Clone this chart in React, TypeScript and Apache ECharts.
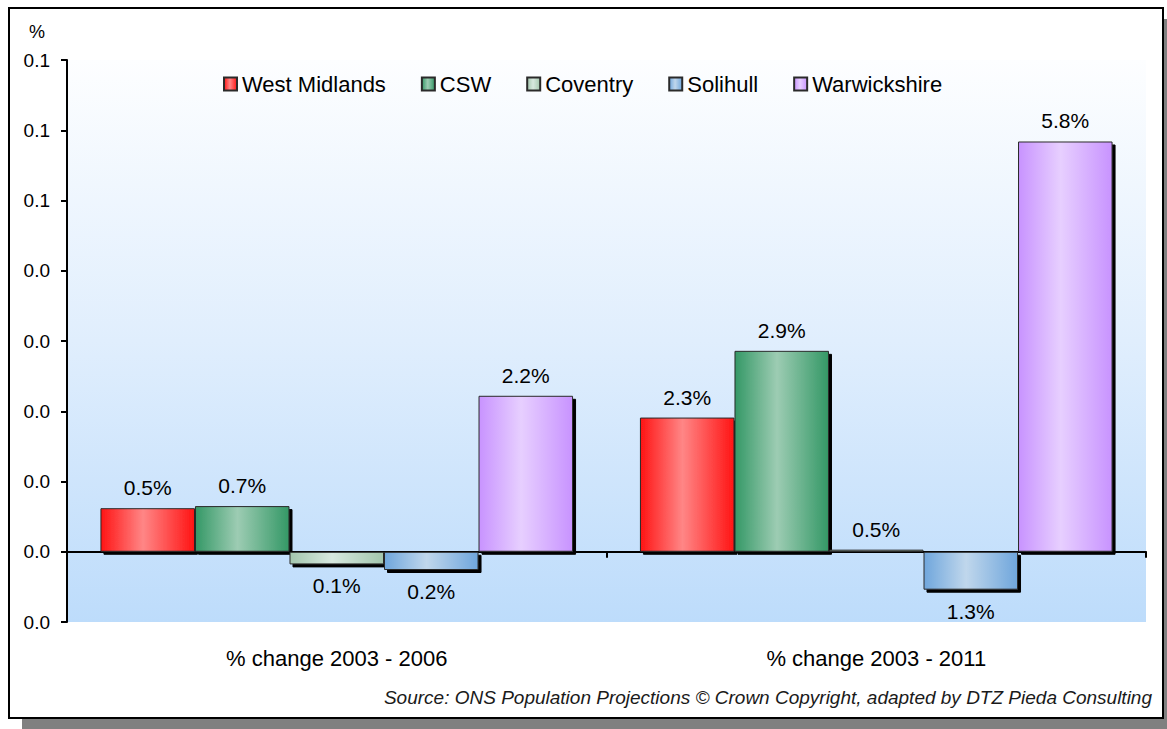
import React, { useEffect, useRef } from 'react';
import * as echarts from 'echarts';

// ---- data ----
const categories = ['% change 2003 - 2006', '% change 2003 - 2011'];
const seriesNames = ['West Midlands', 'CSW', 'Coventry', 'Solihull', 'Warwickshire'];

// bar heights in percent, as drawn
const westMidlands = [0.62, 1.91];
const csw = [0.65, 2.86];
const coventry = [-0.18, 0.03];
const solihull = [-0.26, -0.54];
const warwickshire = [2.22, 5.84];

// value labels as printed on the chart
const westMidlandsLabels = ['0.5%', '2.3%'];
const cswLabels = ['0.7%', '2.9%'];
const coventryLabels = ['0.1%', '0.5%'];
const solihullLabels = ['0.2%', '1.3%'];
const warwickshireLabels = ['2.2%', '5.8%'];

const yMin = -1;
const yMax = 7;
const yInterval = 1;

const unitLabel = '%';
const sourceText =
  'Source: ONS Population Projections \u00A9 Crown Copyright, adapted by DTZ Pieda Consulting';

const FONT = "'Liberation Sans', Arial, sans-serif";

const palette = [
  { edge: '#ff1414', center: '#ff8686' },
  { edge: '#349866', center: '#9dccb3' },
  { edge: '#a3c6ad', center: '#d7e8df' },
  { edge: '#6fa6dc', center: '#c0d7ec' },
  { edge: '#c893ff', center: '#e7cfff' },
];

const seriesValues = [westMidlands, csw, coventry, solihull, warwickshire];
const seriesLabels = [westMidlandsLabels, cswLabels, coventryLabels, solihullLabels, warwickshireLabels];

export default function App() {
  const ref = useRef<HTMLDivElement>(null);

  useEffect(() => {
    if (!ref.current) return;
    const chart = echarts.init(ref.current, undefined, { renderer: 'svg' });

    const series = seriesNames.map((name, si) => ({
      name,
      type: 'bar',
      barGap: '0%',
      barCategoryGap: '12.4%',
      itemStyle: {
        color: new echarts.graphic.LinearGradient(0, 0, 1, 0, [
          { offset: 0, color: palette[si].edge },
          { offset: 0.45, color: palette[si].center },
          { offset: 1, color: palette[si].edge },
        ]),
        borderColor: '#2a2a2a',
        borderWidth: 1,
        shadowColor: '#000',
        shadowBlur: 0,
        shadowOffsetX: 3,
        shadowOffsetY: 3,
      },
      label: {
        show: true,
        fontFamily: FONT,
        fontSize: 21,
        color: '#000',
      },
      data: seriesValues[si].map((v, i) => ({
        value: v,
        label: {
          position: v < 0 ? 'bottom' : 'top',
          distance: v < 0 ? 11 : 10,
          formatter: seriesLabels[si][i],
        },
      })),
    }));

    chart.setOption({
      animation: false,
      backgroundColor: 'transparent',
      textStyle: { fontFamily: FONT },
      grid: {
        left: 67,
        right: 21,
        top: 60,
        bottom: 107,
        show: true,
        borderWidth: 0,
        backgroundColor: new echarts.graphic.LinearGradient(0, 0, 0, 1, [
          { offset: 0, color: '#fdfeff' },
          { offset: 0.5, color: '#e0eefd' },
          { offset: 1, color: '#bddcfb' },
        ]),
        containLabel: false,
        outerBoundsMode: 'none',
      },
      legend: {
        data: seriesNames,
        left: 218,
        top: 68,
        itemWidth: 13,
        itemHeight: 13,
        itemGap: 35,
        icon: 'rect',
        textStyle: { fontFamily: FONT, fontSize: 22, color: '#000' },
      },
      xAxis: {
        type: 'category',
        data: categories,
        axisLine: { show: true, onZero: true, lineStyle: { color: '#000', width: 2 } },
        axisTick: { show: true, length: 6, lineStyle: { color: '#000', width: 2 } },
        axisLabel: { margin: 25, fontFamily: FONT, fontSize: 22, color: '#000' },
        splitLine: { show: false },
      },
      yAxis: {
        type: 'value',
        min: yMin,
        max: yMax,
        interval: yInterval,
        axisLine: { show: true, lineStyle: { color: '#000', width: 2 } },
        axisTick: { show: true, length: 6, lineStyle: { color: '#000', width: 2 } },
        splitLine: { show: false },
        axisLabel: {
          margin: 17,
          fontFamily: FONT,
          fontSize: 19,
          color: '#000',
          formatter: (v: number) => (Math.round(v / 10 + 1e-9) / 10).toFixed(1).replace('-0.0', '0.0'),
        },
      },
      graphic: [
        {
          type: 'text',
          left: 29,
          top: 23,
          style: { text: unitLabel, fontFamily: FONT, fontSize: 18, fill: '#000' },
        },
        {
          type: 'text',
          right: 15,
          top: 688,
          style: { text: sourceText, fontFamily: FONT, fontSize: 19, fontStyle: 'italic', fill: '#1a1a1a' },
        },
      ],
      series,
    });

    return () => chart.dispose();
  }, []);

  return (
    <div style={{ position: 'fixed', left: 0, top: 0, width: 1167, height: 729, background: '#fff' }}>
      <div
        style={{
          position: 'absolute',
          left: 8,
          top: 7,
          width: 1156,
          height: 712,
          boxSizing: 'border-box',
          border: '2px solid #000',
          background: '#fff',
          boxShadow: '14px 12px 0 #808080',
        }}
      />
      <div ref={ref} style={{ position: 'absolute', left: 0, top: 0, width: 1167, height: 729 }} />
    </div>
  );
}
